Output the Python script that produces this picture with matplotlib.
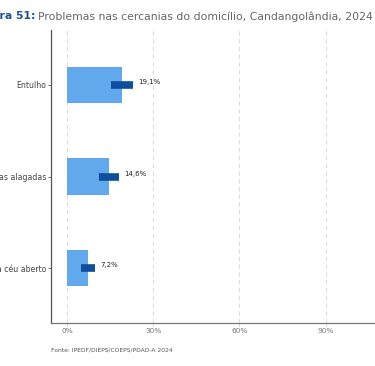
import matplotlib.pyplot as plt

# dados
categorias = ['Esgoto a céu aberto', 'Ruas alagadas', 'Entulho']
valores = [7.2, 14.6, 19.1]
ic_inf = [4.7, 11.2, 15.4]
ic_sup = [9.7, 18.0, 22.8]
rotulos = ['7,2%', '14,6%', '19,1%']
xticks = [0, 30, 60, 90]

plt.rcParams['font.family'] = ['DejaVu Sans']

fig = plt.figure(figsize=(3.75, 3.66), dpi=100)
ax = fig.add_axes([0.136, 0.1175, 0.87, 0.8005])

pos = list(range(len(categorias)))
ax.barh(pos, valores, height=0.4, color='#62a8ec', zorder=2)
for i in pos:
    ax.plot([ic_inf[i], ic_sup[i]], [i, i], color='#0d4f9e', lw=5.5,
            solid_capstyle='butt', zorder=3)
    ax.text(ic_sup[i] + 1.8, i + 0.03, rotulos[i], fontsize=5, color='#222222',
            va='center', ha='left')

ax.set_xlim(-5.6, 108)
ax.set_ylim(-0.6, 2.6)
ax.set_yticks(pos)
ax.set_yticklabels(categorias, fontsize=5.6, color='#444444')
ax.set_xticks(xticks)
ax.set_xticklabels([f'{t}%' for t in xticks], fontsize=5.3, color='#777777')
ax.tick_params(axis='y', length=2, width=0.6, color='#555555', pad=1.5)
ax.tick_params(axis='x', length=2, width=0.6, color='#cccccc', pad=1.5)
ax.grid(axis='x', color='#dddddd', ls=(0, (4, 3)), lw=0.8, zorder=0)
for s in ['top', 'right']:
    ax.spines[s].set_visible(False)
ax.spines['left'].set_color('#555555')
ax.spines['left'].set_linewidth(0.9)
ax.spines['bottom'].set_color('#777777')
ax.spines['bottom'].set_linewidth(0.9)

# titulo: parte cinza alinhada a direita, parte azul em negrito antes dela
t = fig.text(0.995, 0.955, 'Problemas nas cercanias do domicílio, Candangolândia, 2024',
             fontsize=7.8, color='#666666', ha='right', va='center')
fig.canvas.draw()
bb = t.get_window_extent().transformed(fig.transFigure.inverted())
fig.text(bb.x0 - 0.008, 0.955, 'Figura 51:', fontsize=7.8, color='#1f4f8f',
         fontweight='bold', ha='right', va='center')
fig.text(0.136, 0.043, 'Fonte: IPEDF/DIEPS/COEPS/PDAD-A 2024', fontsize=4.3,
         color='#555555', ha='left', va='center')

fig.savefig('out.png', dpi=100)
